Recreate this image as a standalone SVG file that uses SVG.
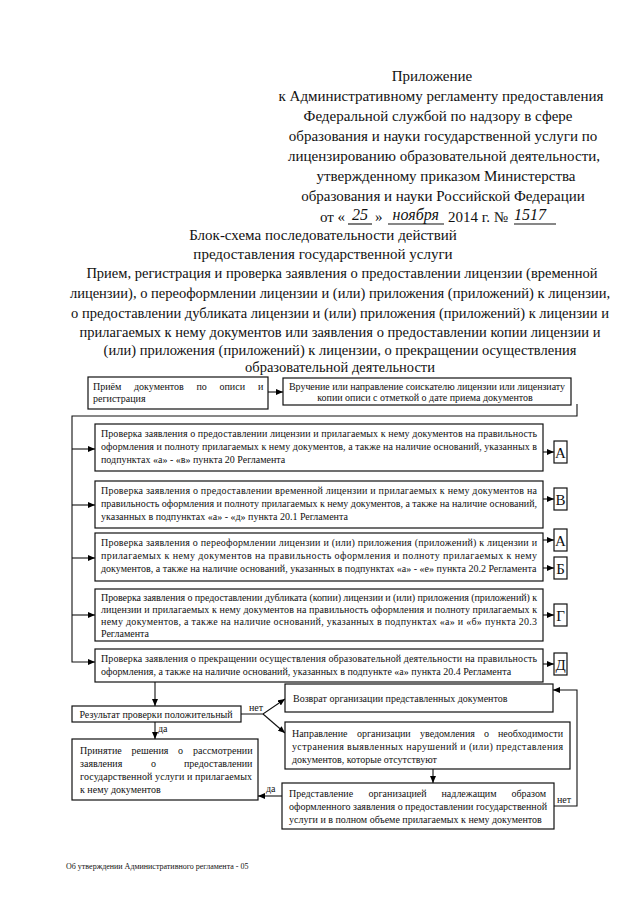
<svg xmlns="http://www.w3.org/2000/svg" width="640" height="905" viewBox="0 0 640 905">
<defs>
<marker id="ah" markerWidth="7" markerHeight="6" refX="7" refY="3" orient="auto" markerUnits="userSpaceOnUse"><path d="M0,0 L7,3 L0,6 z" fill="#000"/></marker>
<style>
.h{font-family:"Liberation Serif","Times New Roman",serif;font-size:15px;fill:#111;text-anchor:middle}
.hs{font-family:"Liberation Serif","Times New Roman",serif;font-size:15px;fill:#111}
.hw{font-style:italic;font-size:16px}
.p{font-family:"Liberation Serif","Times New Roman",serif;font-size:14.5px;fill:#111;text-anchor:middle}
.t{font-family:"Liberation Serif","Times New Roman",serif;font-size:10px;fill:#111}
.tc{font-family:"Liberation Serif","Times New Roman",serif;font-size:10px;fill:#111;text-anchor:middle}
.L{font-family:"Liberation Serif","Times New Roman",serif;font-size:15px;fill:#111;text-anchor:middle}
.box{fill:#fff;stroke:#111;stroke-width:1.2}
.ln{fill:none;stroke:#111;stroke-width:1.1}
.ft{font-family:"Liberation Serif","Times New Roman",serif;font-size:8px;fill:#111}
</style>
</defs>
<rect width="640" height="905" fill="#fff"/>

<g id="header">
<text class="h" x="432" y="81">Приложение</text>
<text class="h" x="441" y="101">к Административному регламенту предоставления</text>
<text class="h" x="438" y="121">Федеральной службой по надзору в сфере</text>
<text class="h" x="443" y="141">образования и науки государственной услуги по</text>
<text class="h" x="444" y="161">лицензированию образовательной деятельности,</text>
<text class="h" x="446" y="181">утвержденному приказом Министерства</text>
<text class="h" x="443" y="201">образования и науки Российской Федерации</text>
<text class="hs" x="320" y="222">от «<tspan class="hw" dx="7" dy="-2">25</tspan><tspan dx="7" dy="2">»</tspan><tspan class="hw" dx="10" dy="-2">ноября</tspan><tspan dx="9" dy="2">2014 г. №</tspan><tspan class="hw" dx="6" dy="-2">1517</tspan></text>
<line x1="348" y1="224" x2="372" y2="224" class="ln"/>
<line x1="388" y1="224" x2="444" y2="224" class="ln"/>
<line x1="514" y1="224" x2="556" y2="224" class="ln"/>
</g>

<g id="title">
<text class="h" x="323" y="240">Блок-схема последовательности действий</text>
<text class="h" x="323" y="259">предоставления государственной услуги</text>
</g>

<g id="paragraph">
<text class="p" x="342" y="278">Прием, регистрация и проверка заявления о предоставлении лицензии (временной</text>
<text class="p" x="340" y="298">лицензии), о переоформлении лицензии и (или) приложения (приложений) к лицензии,</text>
<text class="p" x="340" y="318">о предоставлении дубликата лицензии и (или) приложения (приложений) к лицензии и</text>
<text class="p" x="340" y="337">прилагаемых к нему документов или заявления о предоставлении копии лицензии и</text>
<text class="p" x="340" y="355">(или) приложения (приложений) к лицензии, о прекращении  осуществления</text>
<text class="p" x="340" y="372">образовательной деятельности</text>
</g>

<g id="connectors">
<line class="ln" x1="268" y1="392" x2="283" y2="392" marker-end="url(#ah)"/>
<polyline class="ln" points="577,404 577,416 72,416 72,662 95,662" marker-end="url(#ah)"/>
<line class="ln" x1="72" y1="449" x2="95" y2="449" marker-end="url(#ah)"/>
<line class="ln" x1="72" y1="505" x2="95" y2="505" marker-end="url(#ah)"/>
<line class="ln" x1="72" y1="558" x2="95" y2="558" marker-end="url(#ah)"/>
<line class="ln" x1="72" y1="615" x2="95" y2="615" marker-end="url(#ah)"/>
<line class="ln" x1="543" y1="452" x2="554" y2="452" marker-end="url(#ah)"/>
<line class="ln" x1="543" y1="499" x2="554" y2="499" marker-end="url(#ah)"/>
<line class="ln" x1="543" y1="540" x2="554" y2="540" marker-end="url(#ah)"/>
<line class="ln" x1="543" y1="568" x2="554" y2="568" marker-end="url(#ah)"/>
<line class="ln" x1="543" y1="615" x2="554" y2="615" marker-end="url(#ah)"/>
<line class="ln" x1="543" y1="664" x2="554" y2="664" marker-end="url(#ah)"/>
<line class="ln" x1="155" y1="682" x2="155" y2="706" marker-end="url(#ah)"/>
<polyline class="ln" points="241,714 263,714 285,699" marker-end="url(#ah)"/>
<line class="ln" x1="263" y1="714" x2="285" y2="733" marker-end="url(#ah)"/>
<text class="t" x="249" y="711">нет</text>
<line class="ln" x1="155" y1="722" x2="155" y2="739" marker-end="url(#ah)"/>
<text class="t" x="158" y="732">да</text>
<line class="ln" x1="433" y1="769" x2="433" y2="783" marker-end="url(#ah)"/>
<line class="ln" x1="282" y1="796" x2="258" y2="796" marker-end="url(#ah)"/>
<text class="t" x="266" y="792">да</text>
<polyline class="ln" points="554,806 577,806 577,690 553,690" marker-end="url(#ah)"/>
<text class="t" x="557" y="803">нет</text>
</g>

<g id="n-priem">
<rect class="box" x="88" y="377" width="180" height="32"/>
<text class="t" y="390"><tspan x="93">Приём</tspan><tspan x="134">документов</tspan><tspan x="196.5">по</tspan><tspan x="219.5">описи</tspan><tspan x="258">и</tspan></text>
<text class="t" x="93" y="402">регистрация</text>
</g>

<g id="n-vruchenie">
<rect class="box" x="283" y="378" width="288" height="27"/>
<text class="t" x="289" y="390" textLength="276" lengthAdjust="spacing">Вручение или направление соискателю лицензии или лицензиату</text>
<text class="tc" x="425" y="401">копии описи с отметкой о дате приема документов</text>
</g>

<g id="n-check1">
<rect class="box" x="95" y="424" width="448" height="47"/>
<text class="t" x="101" y="437" textLength="436" lengthAdjust="spacing">Проверка заявления о предоставлении лицензии и прилагаемых к нему документов на правильность</text>
<text class="t" x="101" y="450" textLength="436" lengthAdjust="spacing">оформления и полноту прилагаемых к нему документов, а также на наличие оснований, указанных в</text>
<text class="t" x="101" y="463">подпунктах «а» - «в» пункта 20 Регламента</text>
</g>

<g id="n-check2">
<rect class="box" x="95" y="481" width="448" height="47"/>
<text class="t" x="101" y="494" textLength="436" lengthAdjust="spacing">Проверка заявления о предоставлении временной лицензии и прилагаемых к нему документов на</text>
<text class="t" x="101" y="507" textLength="436" lengthAdjust="spacing">правильность оформления и полноту прилагаемых к нему документов, а также на наличие оснований,</text>
<text class="t" x="101" y="520">указанных в подпунктах «а» - «д» пункта 20.1 Регламента</text>
</g>

<g id="n-check3">
<rect class="box" x="95" y="533" width="448" height="48"/>
<text class="t" x="101" y="546" textLength="436" lengthAdjust="spacing">Проверка заявления о переоформлении лицензии и (или) приложения (приложений) к лицензии и</text>
<text class="t" x="101" y="559" textLength="436" lengthAdjust="spacing">прилагаемых к нему документов на правильность оформления и полноту прилагаемых к нему</text>
<text class="t" x="101" y="572">документов, а также на наличие оснований, указанных в подпунктах «а» - «е» пункта 20.2  Регламента</text>
</g>

<g id="n-check4">
<rect class="box" x="95" y="589" width="448" height="52"/>
<text class="t" x="101" y="601" textLength="436" lengthAdjust="spacing">Проверка заявления о предоставлении дубликата (копии) лицензии и (или) приложения (приложений) к</text>
<text class="t" x="101" y="613" textLength="436" lengthAdjust="spacing">лицензии и прилагаемых к нему документов на правильность оформления и полноту прилагаемых к</text>
<text class="t" x="101" y="625" textLength="436" lengthAdjust="spacing">нему документов, а также на наличие оснований, указанных в подпунктах «а» и «б» пункта 20.3</text>
<text class="t" x="101" y="637">Регламента</text>
</g>

<g id="n-check5">
<rect class="box" x="95" y="649" width="448" height="33"/>
<text class="t" x="101" y="662" textLength="436" lengthAdjust="spacing">Проверка заявления о прекращении осуществления образовательной деятельности на правильность</text>
<text class="t" x="101" y="675">оформления, а также на наличие оснований, указанных в подпункте «а»  пункта 20.4 Регламента</text>
</g>

<g id="n-A1"><rect class="box" x="554" y="441" width="13" height="22"/><text class="L" x="560.5" y="458">А</text></g>
<g id="n-V"><rect class="box" x="554" y="488" width="13" height="22"/><text class="L" x="560.5" y="505">В</text></g>
<g id="n-A2"><rect class="box" x="554" y="529" width="13" height="22"/><text class="L" x="560.5" y="546">А</text></g>
<g id="n-B"><rect class="box" x="554" y="557" width="13" height="22"/><text class="L" x="560.5" y="574">Б</text></g>
<g id="n-G"><rect class="box" x="554" y="604" width="13" height="22"/><text class="L" x="560.5" y="621">Г</text></g>
<g id="n-D"><rect class="box" x="554" y="653" width="13" height="22"/><text class="L" x="560.5" y="670">Д</text></g>

<g id="n-result">
<rect class="box" x="72" y="706" width="169" height="16"/>
<text class="tc" x="156" y="718">Результат проверки положительный</text>
</g>

<g id="n-vozvrat">
<rect class="box" x="285" y="684" width="268" height="28"/>
<text class="t" x="293" y="702">Возврат организации представленных документов</text>
</g>

<g id="n-napravlenie">
<rect class="box" x="285" y="722" width="285" height="47"/>
<text class="t" y="737"><tspan x="292">Направление</tspan><tspan x="357">организации</tspan><tspan x="420">уведомления</tspan><tspan x="484">о</tspan><tspan x="498">необходимости</tspan></text>
<text class="t" x="292" y="750" textLength="271" lengthAdjust="spacing">устранения выявленных нарушений и (или) представления</text>
<text class="t" x="292" y="763">документов, которые отсутствуют</text>
</g>

<g id="n-prinyatie">
<rect class="box" x="72" y="739" width="186" height="61"/>
<text class="t" y="754"><tspan x="80">Принятие</tspan><tspan x="131.5">решения</tspan><tspan x="178">о</tspan><tspan x="193">рассмотрении</tspan></text>
<text class="t" y="767"><tspan x="80">заявления</tspan><tspan x="151">о</tspan><tspan x="184">предоставлении</tspan></text>
<text class="t" x="80" y="780" textLength="172" lengthAdjust="spacing">государственной услуги  и прилагаемых</text>
<text class="t" x="80" y="793">к нему документов</text>
</g>

<g id="n-predstavlenie">
<rect class="box" x="282" y="783" width="272" height="46"/>
<text class="t" y="797"><tspan x="289">Представление</tspan><tspan x="368.5">организацией</tspan><tspan x="441.5">надлежащим</tspan><tspan x="511.5">образом</tspan></text>
<text class="t" x="289" y="810" textLength="258" lengthAdjust="spacing">оформленного заявления о предоставлении государственной</text>
<text class="t" x="289" y="823">услуги и в полном объеме прилагаемых к нему документов</text>
</g>

<g id="footer">
<text class="ft" x="66" y="869">Об утверждении Административного регламента - 05</text>
</g>
</svg>
